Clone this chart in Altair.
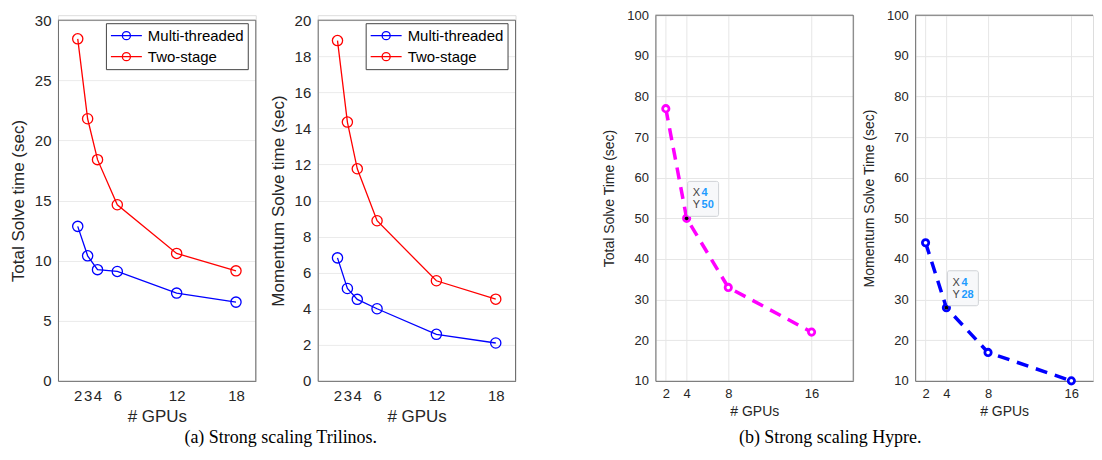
import altair as alt
import pandas as pd

# ---------------- data ----------------
gpus_a = [2, 3, 4, 6, 12, 18]
total_multi = [12.85, 10.4, 9.25, 9.1, 7.3, 6.55]
total_two = [28.45, 21.8, 18.4, 14.65, 10.6, 9.15]
mom_multi = [6.82, 5.12, 4.52, 4.0, 2.58, 2.1]
mom_two = [18.87, 14.35, 11.76, 8.88, 5.55, 4.53]
series_names = ["Multi-threaded", "Two-stage"]

gpus_b = [2, 4, 8, 16]
hypre_total = [77, 50, 33, 22]
hypre_mom = [44, 28, 17, 10]

caption_a = "(a) Strong scaling Trilinos."
caption_b = "(b) Strong scaling Hypre."

FONT = "Liberation Sans"
AX = "#6b6b6b"
TXT = "#262626"
H = 366
TOP_A = 5
W = 198

cap = dict(orient="bottom", font="Liberation Serif", fontSize=18, fontWeight="normal",
           color="black", anchor="middle")


def frame(width, top, right=True):
    one = alt.Chart(pd.DataFrame({"k": [0]}))
    layers = [one.mark_rule(color=AX, strokeWidth=1).encode(
        x=alt.value(0), x2=alt.value(width), y=alt.value(top))]
    if right:
        layers.append(one.mark_rule(color=AX, strokeWidth=1).encode(
            x=alt.value(width), y=alt.value(top), y2=alt.value(H)))
    return layers


def panel_a(ytitle, multi, two, ymax, ystep, title=None):
    df = pd.DataFrame({
        "gpus": gpus_a + gpus_a,
        "time": multi + two,
        "series": [series_names[0]] * len(multi) + [series_names[1]] * len(two),
    })
    x = alt.X("gpus:Q", scale=alt.Scale(domain=[0, 20], nice=False, zero=False),
              axis=alt.Axis(values=gpus_a, title="# GPUs", grid=False, ticks=False,
                            labelFontSize=15, titleFontSize=17, labelPadding=8,
                            titlePadding=5, domainColor=AX, labelColor=TXT, titleColor=TXT,
                            labelFont=FONT, titleFont=FONT, titleFontWeight="normal",
                            labelOverlap=False, labelFlush=False, labelSeparation=0))
    y = alt.Y("time:Q", scale=alt.Scale(domain=[0, ymax], range=[H, TOP_A], nice=False),
              axis=alt.Axis(values=list(range(0, ymax + 1, ystep)), title=ytitle, grid=True,
                            gridColor="#ebebeb", ticks=False, labelFontSize=15,
                            titleFontSize=17, labelPadding=7, titlePadding=7,
                            domainColor=AX, labelColor=TXT, titleColor=TXT,
                            labelFont=FONT, titleFont=FONT, titleFontWeight="normal",
                            labelOverlap=False, labelSeparation=0))
    cscale = alt.Scale(domain=series_names, range=["#0000ff", "#ff0000"])
    legend = alt.Legend(title=None, orient="top-right", offset=8,
                        symbolType="M-2,0L2,0M-0.52,0A0.52,0.52,0,1,1,0.52,0A0.52,0.52,0,1,1,-0.52,0",
                        symbolSize=240, symbolStrokeWidth=1.3, symbolOffset=8,
                        symbolFillColor="transparent",
                        labelFontSize=15, labelFont=FONT, labelColor="black",
                        labelOffset=13, rowPadding=4,
                        strokeColor="#444444", fillColor="white", padding=4)
    color = alt.Color("series:N", scale=cscale, legend=legend)
    base = alt.Chart(df)
    line = base.mark_line(strokeWidth=1.3).encode(x=x, y=y, color=color)
    pts = base.mark_point(shape="circle", size=105, filled=False, strokeWidth=1.3,
                          opacity=1).encode(x=x, y=y, color=color)
    ch = alt.layer(line, pts, *frame(W, TOP_A))
    props = dict(width=W, height=H)
    if title is not None:
        props["title"] = title
    return ch.properties(**props)


def panel_b(ytitle, vals, color, xmax, width, right_border, title=None):
    df = pd.DataFrame({"gpus": gpus_b, "time": vals})
    tip = pd.DataFrame({"gpus": [gpus_b[1]], "time": [vals[1]]})
    x = alt.X("gpus:Q", scale=alt.Scale(domain=[1, xmax], nice=False, zero=False),
              axis=alt.Axis(values=gpus_b, title="# GPUs", grid=True, gridColor="#e6e6e6",
                            ticks=False, labelFontSize=13, titleFontSize=14, labelPadding=7,
                            titlePadding=4, domainColor=AX, labelColor=TXT, titleColor=TXT,
                            labelFont=FONT, titleFont=FONT, titleFontWeight="normal",
                            labelFlush=False, labelOverlap=False))
    y = alt.Y("time:Q", scale=alt.Scale(domain=[10, 100], nice=False, zero=False),
              axis=alt.Axis(values=list(range(10, 101, 10)), title=ytitle, grid=True,
                            gridColor="#e6e6e6", ticks=False, labelFontSize=13,
                            titleFontSize=14, labelPadding=7, titlePadding=10,
                            domainColor=AX, labelColor=TXT, titleColor=TXT,
                            labelFont=FONT, titleFont=FONT, titleFontWeight="normal",
                            labelOverlap=False))
    base = alt.Chart(df)
    line = base.mark_line(strokeWidth=3.5, strokeDash=[12, 8], color=color).encode(x=x, y=y)
    pts = base.mark_point(shape="circle", size=40, filled=True, fill="white",
                          stroke=color, strokeWidth=2.8, opacity=1).encode(x=x, y=y)
    tb = alt.Chart(tip)
    box = tb.mark_rect(fill="#f7f8fa", stroke="#cfd2d6", strokeWidth=1, cornerRadius=2,
                       xOffset=1, x2Offset=32, yOffset=-37, y2Offset=-2).encode(
        x="gpus:Q", x2="gpus:Q", y="time:Q", y2="time:Q")
    dot = tb.mark_point(shape="circle", filled=True, color="black", size=14, opacity=1).encode(
        x="gpus:Q", y="time:Q")
    tx = tb.mark_text(align="left", baseline="middle", dx=6, dy=-25, fontSize=11,
                      font=FONT, color="#444444").encode(x="gpus:Q", y="time:Q", text=alt.value("X"))
    tx2 = tb.mark_text(align="left", baseline="middle", dx=15, dy=-25, fontSize=11,
                       font=FONT, fontWeight="bold", color="#1e9bff").encode(
        x="gpus:Q", y="time:Q", text=alt.Text("gpus:Q", format="d"))
    ty = tb.mark_text(align="left", baseline="middle", dx=6, dy=-13, fontSize=11,
                      font=FONT, color="#444444").encode(x="gpus:Q", y="time:Q", text=alt.value("Y"))
    ty2 = tb.mark_text(align="left", baseline="middle", dx=15, dy=-13, fontSize=11,
                       font=FONT, fontWeight="bold", color="#1e9bff").encode(
        x="gpus:Q", y="time:Q", text=alt.Text("time:Q", format="d"))
    layers = [line, pts, box, dot, tx, tx2, ty, ty2] + frame(width, 0, right_border)
    props = dict(width=width, height=H)
    if title is not None:
        props["title"] = title
    return alt.layer(*layers).properties(**props)


p1 = panel_a("Total Solve time (sec)", total_multi, total_two, 30, 5)
p2 = panel_a("Momentum Solve time (sec)", mom_multi, mom_two, 20, 2,
             title=alt.TitleParams(caption_a, offset=4, dx=-136, **cap))
p3 = panel_b("Total Solve Time (sec)", hypre_total, "#ff00ff", 20, W, True,
             title=alt.TitleParams(caption_b, offset=10, dx=76, **cap))
p4 = panel_b("Momentum Solve Time (sec)", hypre_mom, "#0000ff", 18.08, 178, False)

spacer = alt.Chart(pd.DataFrame({"k": [0]})).mark_point(opacity=0).properties(width=16, height=H)

chart = alt.hconcat(p1, p2, spacer, p3, p4, spacing=62, bounds="flush").resolve_scale(
    color="independent").resolve_legend(color="independent").properties(
    padding={"left": 0, "top": 0, "right": 0, "bottom": 0}
).configure_view(stroke="transparent").configure_axis(
    labelOverlap=False, labelFlush=False
).configure(background="white")

chart.save("out.html", embed_options={"renderer": "svg", "actions": False})
